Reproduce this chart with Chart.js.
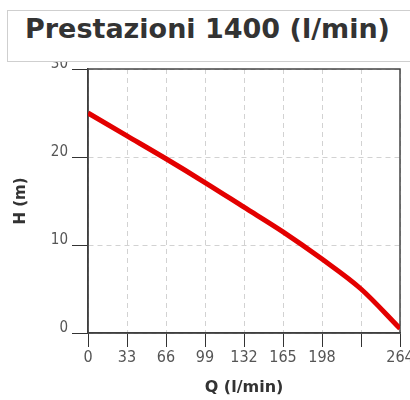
<!DOCTYPE html>
<html>
<head>
<meta charset="utf-8">
<title>Prestazioni 1400 (l/min)</title>
<script src="https://cdn.jsdelivr.net/npm/chart.js@4"></script>
<style>
  html, body { margin: 0; padding: 0; background: #fff; overflow: hidden; width: 410px; height: 400px; }
  #wrap { position: relative; width: 410px; height: 400px; overflow: hidden; }
  #curve { position: absolute; left: 0; top: 0; }
  #title {
    position: absolute; left: 7px; top: 10px; width: 420px; height: 50px;
    border: 1px solid #cfcfcf; background: #fff; z-index: 2;
    font: bold 27px "DejaVu Sans", sans-serif; color: #333;
    line-height: 35px; padding-left: 17px; box-sizing: content-box;
    white-space: nowrap;
  }
</style>
</head>
<body>
<div id="wrap">
  <div id="title">Prestazioni 1400 (l/min)</div>
  <canvas id="curve" width="430" height="400"></canvas>
</div>
<script>
/* ── Data ───────────────────────────────────────────────────── */

const flowValues = [0, 33, 66, 99, 132, 165, 198, 231, 264];          // Q (l/min)
const headValues = [25, 22.4, 19.8, 17.1, 14.3, 11.5, 8.4, 5.0, 0.5];  // H (m)
const xTickLabels = ["0", "33", "66", "99", "132", "165", "198", "", "264"];
const yTickLabels = ["0", "10", "20", "30"];

/* ── Frame (top / right edges of the plot) ──────────────────── */

const framePlugin = {
  id: "frame",
  beforeDatasetsDraw(chart) {
    const { ctx, chartArea: a } = chart;
    ctx.save();
    ctx.strokeStyle = "#444";
    ctx.lineWidth = 1.5;
    ctx.strokeRect(a.left, a.top, a.right - a.left, a.bottom - a.top);
    ctx.restore();
  },
};

const condensed = "'DejaVu Sans Condensed', 'DejaVu Sans', sans-serif";
const titleFont = { family: "'DejaVu Sans', sans-serif", weight: "bold" };

new Chart(document.getElementById("curve"), {
  type: "line",
  data: {
    datasets: [{
      data: flowValues.map((q, i) => ({ x: q, y: headValues[i] })),
      borderColor: "#e30000",
      borderWidth: 5,
      pointRadius: 0,
      cubicInterpolationMode: "monotone",
      fill: false,
    }],
  },
  options: {
    responsive: false,
    animation: false,
    layout: { padding: { left: 0, right: 30, top: 69, bottom: 0 } },
    plugins: { legend: { display: false }, tooltip: { enabled: false } },
    scales: {
      x: {
        type: "linear",
        min: 0, max: 264,
        afterFit: s => { s.height = 67; },
        ticks: {
          stepSize: 33, autoSkip: false, maxRotation: 0, padding: 1,
          color: "#555", font: { family: condensed, size: 16 },
          callback: (v, i) => xTickLabels[i],
        },
        grid: { color: "#d2d2d2", tickColor: "#333", tickLength: 14, tickBorderDash: [] },
        border: { color: "#333", width: 1.5, dash: [5, 4] },
        title: { display: true, text: "Q (l/min)", color: "#333", font: { ...titleFont, size: 16 }, padding: { top: 0, bottom: 3 } },
      },
      y: {
        min: 0, max: 30,
        afterFit: s => { s.width = 88; },
        ticks: {
          stepSize: 10, padding: 4, color: "#555",
          font: { family: condensed, size: 15, lineHeight: "9px" },
          // second empty line lifts the label so it sits on the tick
          callback: (v, i) => [yTickLabels[i], ""],
        },
        grid: { color: "#d2d2d2", tickColor: "#333", tickLength: 16, tickBorderDash: [] },
        border: { color: "#333", width: 1.5, dash: [5, 4] },
        title: { display: true, text: "H (m)", color: "#333", font: { ...titleFont, size: 15 }, padding: { top: 12, bottom: 0 } },
      },
    },
  },
  plugins: [framePlugin],
});
</script>
</body>
</html>
